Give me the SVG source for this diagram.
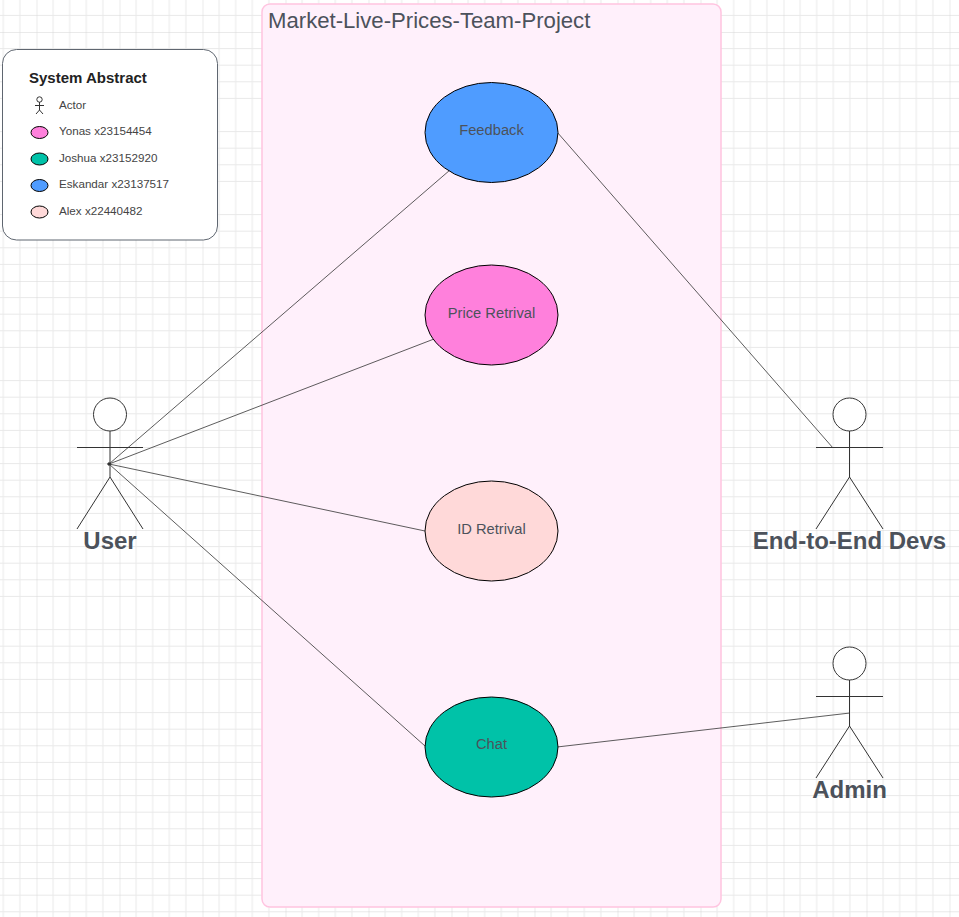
<svg xmlns="http://www.w3.org/2000/svg" width="959" height="917" viewBox="0 0 959 917">
<style>
text{font-family:"Liberation Sans",Arial,sans-serif;fill:#4c525b}
.actor{fill:none;stroke:#333;stroke-width:1}
.actor circle{fill:#fff}
.use{stroke:#000;stroke-width:1}
.lbl{font-size:14.7px;text-anchor:middle}
.big{font-size:24px;font-weight:bold;text-anchor:middle}
.leg{font-size:11.65px;fill:#444}
.conn{stroke:#333;stroke-width:.8;fill:none}
</style>
<defs>
<pattern id="grid" x="36.5" y="32" width="83" height="83" patternUnits="userSpaceOnUse">
<path d="M16.6 0V83M33.2 0V83M49.8 0V83M66.4 0V83M0 16.6H83M0 33.2H83M0 49.8H83M0 66.4H83" stroke="#e9e9e9" stroke-width="1" fill="none"/>
<path d="M0 0V83M0 0H83" stroke="#d6d6d6" stroke-width="1" fill="none"/>
</pattern>
</defs>
<rect width="959" height="917" fill="#fff"/>
<rect width="959" height="917" fill="url(#grid)"/>
<g id="boundary">
<rect x="262" y="4" width="459" height="903" rx="8" fill="#fff0fb" stroke="#ffc4e0" stroke-width="1.5"/>
<text x="268" y="28" font-size="22.15">Market-Live-Prices-Team-Project</text>
</g>
<g id="connectors" class="conn">
<path d="M109 464L450 170"/>
<path d="M109 464L434 339"/>
<path d="M109 464L425 531"/>
<path d="M109 464L425 746"/>
<path d="M557 132L833 448"/>
<path d="M557 747L850 713"/>
<circle cx="109" cy="464" r="1.3" fill="#333"/>
</g>
<g id="legend">
<rect x="2.500" y="49.500" width="215" height="190.500" rx="14" fill="#fff" stroke="#5f6670" stroke-width="1"/>
<text x="29" y="82.500" font-size="15" font-weight="bold" style="fill:#222">System Abstract</text>
<g class="actor" stroke-width=".8">
<circle cx="39.500" cy="99.500" r="2.700"/>
<path d="M39.500 102V110M35 105.500H44M39.500 110L36 114M39.500 110L43 114"/>
</g>
<text class="leg" x="59" y="108.500">Actor</text>
<ellipse class="use" cx="39.500" cy="132.500" rx="8.500" ry="6" fill="#ff80dc"/>
<text class="leg" x="59" y="135">Yonas x23154454</text>
<ellipse class="use" cx="39.500" cy="159" rx="8.500" ry="6" fill="#00c2a8"/>
<text class="leg" x="59" y="161.500">Joshua x23152920</text>
<ellipse class="use" cx="39.500" cy="185.500" rx="8.500" ry="6" fill="#4f9cff"/>
<text class="leg" x="59" y="188">Eskandar x23137517</text>
<ellipse class="use" cx="39.500" cy="212" rx="8.500" ry="6" fill="#ffd9d9"/>
<text class="leg" x="59" y="214.500">Alex x22440482</text>
</g>
<g id="feedback">
<ellipse class="use" cx="491.500" cy="132.500" rx="66.500" ry="50" fill="#4f9cff"/>
<text class="lbl" x="491.500" y="135">Feedback</text>
</g>
<g id="price">
<ellipse class="use" cx="491.500" cy="315" rx="66.500" ry="50" fill="#ff80dc"/>
<text class="lbl" x="491.500" y="318">Price Retrival</text>
</g>
<g id="id-retrival">
<ellipse class="use" cx="491.500" cy="531" rx="66.500" ry="50" fill="#ffd9d9"/>
<text class="lbl" x="491.500" y="534">ID Retrival</text>
</g>
<g id="chat">
<ellipse class="use" cx="491.500" cy="747" rx="66.500" ry="50" fill="#00c2a8"/>
<text class="lbl" x="491.500" y="749">Chat</text>
</g>
<g id="user">
<g class="actor"><circle cx="110" cy="414.500" r="16.500"/><path d="M110 431V477M77 447.500H143M110 477L77 529M110 477L143 529"/></g>
<text class="big" x="110" y="548.500">User</text>
</g>
<g id="devs">
<g class="actor"><circle cx="849.500" cy="414.500" r="16.500"/><path d="M849.500 431V477M816 447.500H883M849.500 477L816 529M849.500 477L883 529"/></g>
<text class="big" x="849.500" y="548.500">End-to-End Devs</text>
</g>
<g id="admin">
<g class="actor"><circle cx="849.500" cy="663.500" r="16.500"/><path d="M849.500 680V726M816 696.500H883M849.500 726L816 778M849.500 726L883 778"/></g>
<text class="big" x="849.500" y="797.500">Admin</text>
</g>
</svg>
